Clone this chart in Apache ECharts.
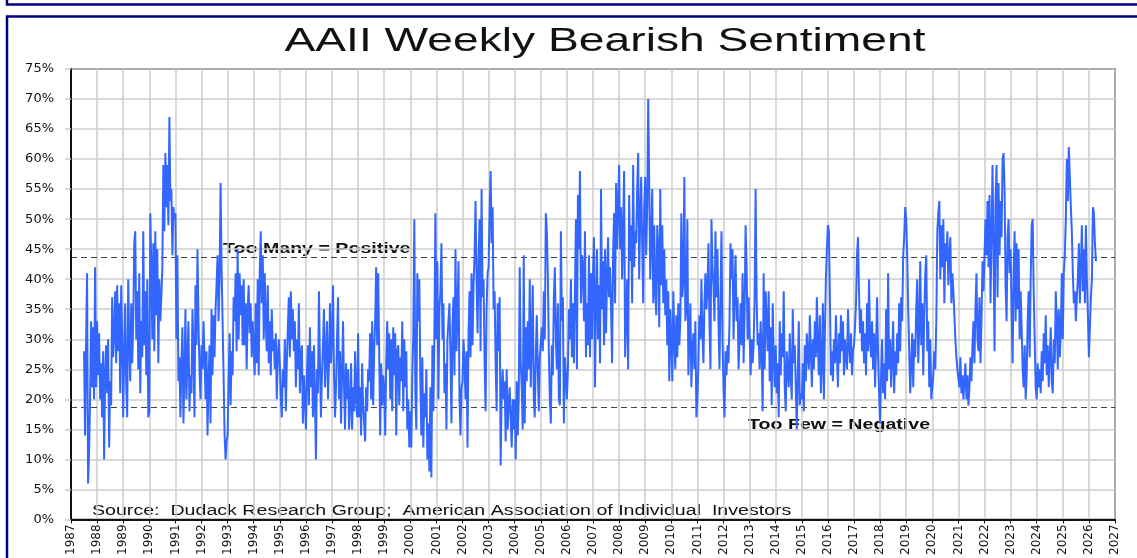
<!DOCTYPE html>
<html>
<head>
<meta charset="utf-8">
<script src="https://cdn.jsdelivr.net/npm/echarts@6/dist/echarts.min.js"></script>
<style>
  html, body { margin: 0; padding: 0; background: #ffffff; overflow: hidden; }
  #chart { width: 1137px; height: 558px; }
</style>
</head>
<body>
<div id="chart"></div>
<script>
// ---- Data (AAII weekly bearish %, ~biweekly samples) ----
const SLOTS_PER_YEAR = 26;
const bear1987 = [28, 14, 29, 41, 6, 11, 20, 33, 22, 32, 20, 42, 22];
const bear1988 = [33, 24, 31, 20, 26, 17, 28, 10, 24, 29, 21, 30, 12, 23, 19, 37, 27, 31, 38, 26, 39, 28, 36, 21, 39, 30];
const bear1989 = [17, 28, 36, 22, 17, 40, 30, 23, 36, 26, 33, 46, 48, 30, 38, 25, 41, 21, 33, 27, 48, 29, 38, 24, 40, 17];
const bear1990 = [18, 51, 42, 30, 46, 28, 48, 34, 45, 26, 40, 33, 37, 42, 59, 48, 61, 52, 59, 49, 67, 53, 55, 44, 52, 50];
const bear1991 = [51, 30, 44, 23, 27, 17, 26, 32, 16, 24, 35, 20, 27, 33, 18, 24, 21, 35, 28, 17, 39, 29, 45, 33, 25, 20];
const bear1992 = [29, 25, 33, 27, 20, 28, 14, 23, 29, 16, 35, 24, 34, 27, 35, 39, 44, 33, 40, 56, 42, 33, 24, 14, 10, 13];
const bear1993 = [14, 23, 31, 19, 28, 24, 37, 33, 41, 28, 45, 30, 41, 34, 39, 29, 40, 29, 36, 25, 35, 39, 31, 36, 27, 33];
const bear1994 = [33, 24, 36, 26, 40, 24, 41, 48, 36, 44, 30, 41, 33, 28, 39, 26, 33, 24, 35, 28, 30, 25, 31, 20, 27, 30];
const bear1995 = [26, 20, 17, 25, 22, 30, 18, 26, 32, 37, 27, 38, 30, 35, 28, 33, 22, 30, 25, 36, 21, 27, 29, 16, 24, 20];
const bear1996 = [15, 24, 29, 19, 32, 22, 28, 17, 29, 20, 10, 25, 21, 38, 26, 17, 24, 29, 35, 22, 27, 33, 20, 26, 36, 26];
const bear1997 = [30, 39, 24, 17, 22, 30, 37, 20, 28, 16, 24, 33, 22, 15, 26, 20, 25, 15, 19, 26, 15, 22, 18, 28, 20, 17];
const bear1998 = [31, 17, 22, 14, 26, 19, 16, 13, 22, 18, 25, 23, 31, 20, 33, 19, 28, 33, 42, 29, 41, 28, 14, 26, 19, 24];
const bear1999 = [22, 14, 26, 33, 25, 31, 20, 30, 18, 32, 24, 31, 14, 28, 29, 19, 27, 23, 33, 18, 30, 22, 28, 15, 20, 12];
const bear2000 = [18, 12, 24, 31, 50, 21, 15, 41, 33, 40, 23, 14, 27, 12, 21, 17, 25, 10, 16, 8, 22, 7, 29, 18, 31, 51];
const bear2001 = [30, 43, 20, 35, 38, 46, 30, 36, 21, 26, 15, 30, 33, 36, 27, 16, 32, 37, 24, 45, 28, 35, 43, 20, 14, 22];
const bear2002 = [23, 30, 26, 20, 28, 12, 31, 38, 27, 41, 29, 39, 44, 53, 40, 31, 43, 50, 28, 55, 37, 40, 26, 18, 35, 41];
const bear2003 = [42, 51, 58, 46, 52, 35, 38, 26, 18, 36, 28, 37, 9, 21, 25, 20, 23, 13, 25, 15, 19, 22, 17, 12, 20, 15];
const bear2004 = [20, 10, 23, 14, 20, 42, 26, 22, 15, 44, 16, 32, 23, 33, 25, 40, 22, 30, 39, 20, 17, 27, 34, 25, 18, 27];
const bear2005 = [27, 32, 28, 38, 30, 51, 48, 41, 28, 20, 16, 29, 24, 37, 42, 30, 25, 36, 20, 19, 48, 33, 37, 16, 27, 24];
const bear2006 = [20, 25, 35, 30, 40, 27, 36, 26, 38, 50, 25, 54, 45, 58, 36, 44, 42, 33, 48, 27, 36, 29, 44, 27, 41, 30];
const bear2007 = [41, 47, 22, 36, 45, 30, 39, 26, 55, 35, 43, 29, 45, 31, 40, 47, 37, 42, 35, 26, 44, 51, 36, 56, 45, 52];
const bear2008 = [59, 45, 52, 40, 48, 58, 27, 34, 40, 25, 54, 43, 49, 36, 59, 42, 48, 46, 55, 61, 40, 50, 57, 46, 36, 52];
const bear2009 = [57, 44, 52, 70, 56, 40, 47, 55, 36, 49, 38, 34, 49, 45, 32, 55, 39, 49, 36, 45, 34, 40, 29, 38, 23, 35];
const bear2010 = [30, 23, 38, 30, 25, 34, 27, 36, 29, 33, 51, 37, 40, 57, 33, 35, 50, 24, 30, 36, 22, 28, 31, 25, 33, 17];
const bear2011 = [20, 26, 34, 30, 40, 31, 26, 36, 41, 35, 38, 46, 33, 25, 50, 42, 39, 33, 48, 37, 45, 33, 25, 37, 48, 30];
const bear2012 = [22, 17, 28, 24, 29, 26, 33, 46, 40, 45, 30, 38, 44, 33, 37, 25, 30, 36, 29, 41, 26, 34, 49, 42, 30, 37];
const bear2013 = [31, 24, 30, 26, 29, 37, 55, 37, 29, 31, 25, 33, 28, 18, 41, 25, 38, 33, 28, 38, 23, 32, 19, 36, 27, 22];
const bear2014 = [29, 21, 26, 17, 33, 24, 31, 27, 38, 22, 18, 28, 25, 22, 31, 24, 20, 35, 26, 29, 22, 15, 24, 33, 19, 21];
const bear2015 = [20, 26, 18, 29, 23, 31, 27, 25, 34, 28, 22, 30, 25, 33, 27, 37, 29, 24, 34, 21, 26, 36, 20, 31, 40, 45];
const bear2016 = [49, 48, 37, 24, 28, 23, 30, 26, 34, 27, 22, 31, 26, 34, 28, 33, 24, 30, 27, 25, 35, 29, 26, 31, 24, 28];
const bear2017 = [29, 32, 36, 44, 47, 38, 31, 35, 28, 33, 26, 31, 24, 36, 28, 40, 30, 27, 33, 25, 31, 22, 29, 37, 27, 21];
const bear2018 = [16, 24, 30, 21, 26, 20, 35, 23, 41, 25, 30, 22, 27, 33, 21, 28, 24, 31, 26, 36, 28, 37, 33, 44, 47, 52];
const bear2019 = [50, 44, 35, 28, 21, 26, 31, 22, 30, 27, 35, 40, 26, 32, 43, 29, 36, 24, 34, 41, 44, 28, 33, 22, 30, 20];
const bear2020 = [20, 24, 28, 25, 33, 48, 51, 53, 40, 49, 42, 50, 36, 46, 43, 48, 39, 44, 47, 36, 41, 38, 34, 30, 27, 25];
const bear2021 = [25, 22, 27, 21, 24, 20, 23, 26, 20, 24, 19, 22, 27, 23, 29, 33, 26, 35, 41, 30, 28, 37, 26, 33, 43, 38];
const bear2022 = [38, 50, 44, 53, 42, 54, 36, 47, 59, 45, 28, 53, 59, 37, 56, 44, 53, 47, 60, 61, 55, 39, 33, 47, 50, 41];
const bear2023 = [45, 35, 26, 41, 48, 33, 46, 35, 45, 30, 38, 32, 25, 22, 29, 20, 24, 33, 38, 27, 40, 49, 50, 38, 30, 22];
const bear2024 = [20, 26, 22, 25, 21, 28, 23, 31, 26, 34, 24, 29, 22, 27, 32, 23, 21, 30, 26, 38, 33, 25, 35, 27, 31, 41];
const bear2025 = [30, 41, 44, 50, 60, 53, 62, 57, 52, 48, 41, 36, 38, 33, 37, 40, 46, 36, 42, 49, 38, 45, 36, 49, 40, 34];
const bear2026 = [27, 32, 37, 40, 52, 51, 46, 43];

// year, first biweekly slot within that year, values
const yearBlocks = [
  [1987, 13, bear1987], [1988, 0, bear1988], [1989, 0, bear1989], [1990, 0, bear1990],
  [1991, 0, bear1991], [1992, 0, bear1992], [1993, 0, bear1993], [1994, 0, bear1994],
  [1995, 0, bear1995], [1996, 0, bear1996], [1997, 0, bear1997], [1998, 0, bear1998],
  [1999, 0, bear1999], [2000, 0, bear2000], [2001, 0, bear2001], [2002, 0, bear2002],
  [2003, 0, bear2003], [2004, 0, bear2004], [2005, 0, bear2005], [2006, 0, bear2006],
  [2007, 0, bear2007], [2008, 0, bear2008], [2009, 0, bear2009], [2010, 0, bear2010],
  [2011, 0, bear2011], [2012, 0, bear2012], [2013, 0, bear2013], [2014, 0, bear2014],
  [2015, 0, bear2015], [2016, 0, bear2016], [2017, 0, bear2017], [2018, 0, bear2018],
  [2019, 0, bear2019], [2020, 0, bear2020], [2021, 0, bear2021], [2022, 0, bear2022],
  [2023, 0, bear2023], [2024, 0, bear2024], [2025, 0, bear2025], [2026, 0, bear2026]
];

const yearTicksMin = 1987;
const yearTicksMax = 2027;
const pctTicksMax = 75;
const tooManyLevel = 43.6;   // "Too Many = Positive"
const tooFewLevel = 18.6;    // "Too Few = Negative"

const titleText = 'AAII Weekly Bearish Sentiment';
const tooManyText = 'Too Many = Positive';
const tooFewText = 'Too Few = Negative';
const sourceText = 'Source:  Dudack Research Group;  American Association of Individual  Investors';

const LINE_BLUE = '#3366ff';
const INK = '#111111';
const GRID_GRAY = '#cccccc';
const FRAME_NAVY = '#000080';

// ---- Build series points (x = fractional year) ----
const points = [];
yearBlocks.forEach(([yr, start, vals]) => {
  vals.forEach((v, i) => points.push([yr + (start + i) / SLOTS_PER_YEAR, v]));
});

const chart = echarts.init(document.getElementById('chart'));

const stretched = (text, x, y, size, weight, align) => ({
  type: 'text',
  x: x, y: y, scaleX: 1.4, scaleY: 1,
  z: 0,
  silent: true,
  style: {
    text: text,
    fontSize: size, fontWeight: weight, fontFamily: '"Liberation Sans", Arial, sans-serif',
    fill: INK,
    align: align, textAlign: align,
    verticalAlign: 'middle', textVerticalAlign: 'middle'
  }
});

chart.setOption({
  animation: false,
  backgroundColor: '#ffffff',
  grid: {
    left: 71, right: 22, top: 69, bottom: 35,
    show: true, borderColor: INK, borderWidth: 1.5
  },
  xAxis: {
    type: 'value',
    min: yearTicksMin, max: yearTicksMax, interval: 1,
    axisLine: { show: true, onZero: false, lineStyle: { color: INK, width: 2 } },
    axisTick: { show: true, length: 4, lineStyle: { color: INK, width: 1 } },
    axisLabel: {
      rotate: 90, margin: 5, showMinLabel: true, showMaxLabel: true,
      fontFamily: '"DejaVu Sans", sans-serif', fontSize: 12, color: INK,
      formatter: (v) => String(Math.round(v))
    },
    splitLine: { show: true, lineStyle: { color: GRID_GRAY, width: 1.5 } }
  },
  yAxis: {
    type: 'value',
    min: 0, max: pctTicksMax, interval: 5,
    axisLine: { show: true, lineStyle: { color: INK, width: 2 } },
    axisTick: { show: true, length: 6, lineStyle: { color: GRID_GRAY, width: 1.5 } },
    axisLabel: {
      margin: 17, fontFamily: '"DejaVu Sans", sans-serif', fontSize: 13, color: INK,
      formatter: '{value}%'
    },
    splitLine: { show: true, lineStyle: { color: GRID_GRAY, width: 1.5 } }
  },
  series: [{
    type: 'line',
    data: points,
    showSymbol: false,
    z: 5,
    lineStyle: { color: LINE_BLUE, width: 2 },
    markLine: {
      silent: true,
      symbol: ['none', 'none'],
      label: { show: false },
      lineStyle: { color: INK, type: [6, 4], width: 1.2, opacity: 0.8 },
      data: [{ yAxis: tooManyLevel }, { yAxis: tooFewLevel }]
    }
  }],
  graphic: [
    { type: 'rect', silent: true, shape: { x: 7, y: -60, width: 1300, height: 64.5 },
      style: { fill: null, stroke: FRAME_NAVY, lineWidth: 2.5 } },
    { type: 'rect', silent: true, shape: { x: 7, y: 16.5, width: 1300, height: 700 },
      style: { fill: null, stroke: FRAME_NAVY, lineWidth: 2.5 } },
    stretched(titleText, 605, 42, 33, 'normal', 'center'),
    stretched(tooManyText, 223, 249, 14, 'bold', 'left'),
    stretched(tooFewText, 748, 425, 14, 'bold', 'left'),
    stretched(sourceText, 92, 511, 14, 'normal', 'left')
  ]
});
</script>
</body>
</html>
